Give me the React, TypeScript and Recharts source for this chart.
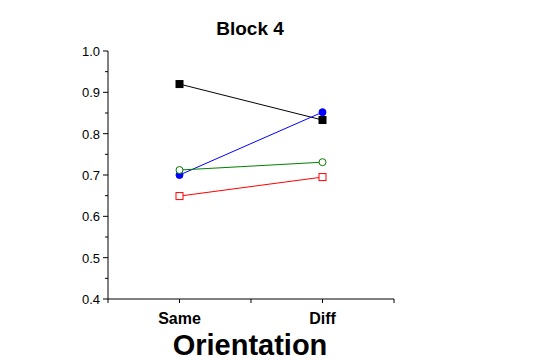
import { ComposedChart, Line, XAxis, YAxis } from 'recharts';

// proportion by orientation, block 4
const orientations = ['Same', 'Diff'];
const filledSquare = [0.92, 0.833];
const filledCircle = [0.7, 0.852];
const openCircle = [0.712, 0.731];
const openSquare = [0.649, 0.695];
const yTicks = [0.4, 0.45, 0.5, 0.55, 0.6, 0.65, 0.7, 0.75, 0.8, 0.85, 0.9, 0.95, 1.0];
const yLabels = ['0.4', '0.5', '0.6', '0.7', '0.8', '0.9', '1.0'];

const data = orientations.map((name, i) => ({
  name,
  filledSquare: filledSquare[i],
  filledCircle: filledCircle[i],
  openCircle: openCircle[i],
  openSquare: openSquare[i],
}));

const FONT = '"Liberation Sans", Arial, sans-serif';

const square = (color: string, fill: string) => (p: any) => (
  <rect key={p.key ?? `${p.cx}-${p.cy}`} x={p.cx - 3.5} y={p.cy - 3.5} width={7} height={7} fill={fill} stroke={color} strokeWidth={1} />
);
const circle = (color: string, fill: string) => (p: any) => (
  <circle key={p.key ?? `${p.cx}-${p.cy}`} cx={p.cx} cy={p.cy} r={3.5} fill={fill} stroke={color} strokeWidth={1} />
);

const YTick = (props: any) => {
  const { x, y, payload } = props;
  const label = payload.value.toFixed(1);
  const major = yLabels.includes(label) && Math.abs(payload.value * 10 - Math.round(payload.value * 10)) < 1e-6;
  const axisX = x + 8;
  return (
    <g>
      <line x1={axisX - (major ? 5 : 3)} x2={axisX} y1={y} y2={y} stroke="#000" />
      {major && (
        <text x={axisX - 8} y={y} dy={5} textAnchor="end" fontSize={13} fontFamily={FONT} fill="#000">
          {label}
        </text>
      )}
    </g>
  );
};

const XTick = (props: any) => {
  const { x, y, payload, index } = props;
  const half = payload.offset ?? 71.5;
  const top = y - 4;
  return (
    <g>
      <line x1={x} x2={x} y1={top} y2={top + 4} stroke="#000" />
      {index === 0 && <line x1={x - half} x2={x - half} y1={top} y2={top + 4} stroke="#000" />}
      <line x1={x + half} x2={x + half} y1={top} y2={top + 4} stroke="#000" />
      <text x={x} y={top} dy={25} textAnchor="middle" fontSize={16} fontWeight="bold" fontFamily={FONT} fill="#000">
        {payload.value}
      </text>
    </g>
  );
};

export default function App() {
  return (
    <div style={{ position: 'absolute', left: 0, top: 0, width: 540, height: 360, background: '#fff', fontFamily: FONT }}>
      <div style={{ position: 'absolute', left: 0, width: 500, top: 18, textAlign: 'center', fontSize: 19, fontWeight: 'bold' }}>
        Block 4
      </div>
      <ComposedChart width={540} height={360} data={data} margin={{ top: 51, right: 146, bottom: 31, left: 68 }}>
        <XAxis
          dataKey="name"
          scale="band"
          stroke="#000"
          tickLine={false}
          tickSize={0}
          tickMargin={4}
          height={30}
          tick={<XTick />}
        />
        <YAxis
          domain={[0.4, 1.0]}
          ticks={yTicks}
          interval={0}
          width={40}
          stroke="#000"
          tickLine={false}
          tickSize={0}
          tickMargin={8}
          tick={<YTick />}
        />
        <Line dataKey="filledSquare" stroke="#000" strokeWidth={1} dot={square('#000', '#000')} isAnimationActive={false} />
        <Line dataKey="filledCircle" stroke="#0000ff" strokeWidth={1} dot={circle('#0000ff', '#0000ff')} isAnimationActive={false} />
        <Line dataKey="openCircle" stroke="#008000" strokeWidth={1} dot={circle('#008000', '#fff')} isAnimationActive={false} />
        <Line dataKey="openSquare" stroke="#ff0000" strokeWidth={1} dot={square('#ff0000', '#fff')} isAnimationActive={false} />
      </ComposedChart>
      <div style={{ position: 'absolute', left: 0, width: 500, top: 329, textAlign: 'center', fontSize: 29, fontWeight: 'bold' }}>
        Orientation
      </div>
    </div>
  );
}
